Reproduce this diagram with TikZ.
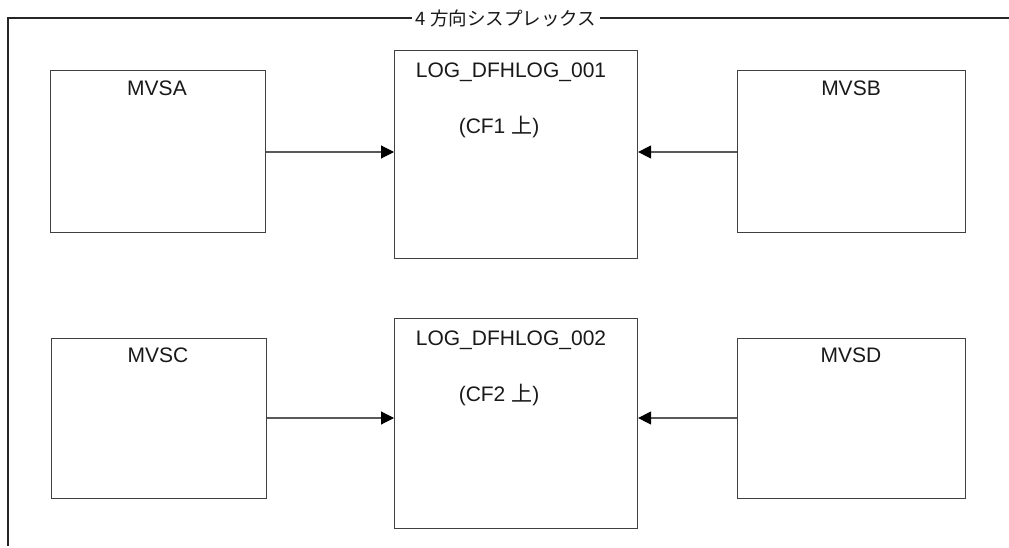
\documentclass[tikz,border=0pt]{standalone}
\usepackage{fontspec}
\setmainfont{Liberation Sans}
\newfontfamily\jpfont{Noto Sans CJK JP}
\usetikzlibrary{arrows.meta}
\begin{document}
\begin{tikzpicture}[x=1pt,y=-1pt,
  box/.style={draw=black!75,line width=1.1pt,anchor=north west,inner sep=0pt},
  lbl/.style={font=\fontsize{21}{25}\selectfont,text=black!90,inner sep=0pt},
  conn/.style={draw=black!65,line width=1.1pt,-{Triangle[length=13pt,width=13pt,color=black]}},
]
\useasboundingbox (0,0) rectangle (1009,548);
% outer frame
\coordinate (tr) at (1009,18);
\coordinate (tl) at (8,18);
\coordinate (bl) at (8,546);
\draw[black!85,line width=1.1pt] (tr) -- (tl) -- (bl);
\node[fill=white,inner xsep=4pt,inner ysep=2pt,font=\fontsize{18.5}{22}\selectfont\jpfont,text=black!90] (title) at (506,18) {4 方向シスプレックス};
% boxes
\node[box,minimum width=215pt,minimum height=162pt] (mvsa) at (50,70) {};
\node[box,minimum width=243pt,minimum height=208pt] (log1) at (394,50) {};
\node[box,minimum width=228pt,minimum height=162pt] (mvsb) at (737,70) {};
\node[box,minimum width=215pt,minimum height=160pt] (mvsc) at (51,338) {};
\node[box,minimum width=243pt,minimum height=210pt] (log2) at (394,318) {};
\node[box,minimum width=228pt,minimum height=160pt] (mvsd) at (737,338) {};
% texts
\node[lbl] (ta) at (157,88) {MVSA};
\node[lbl] (tb) at (851,88) {MVSB};
\node[lbl] (tc) at (158,355) {MVSC};
\node[lbl] (td) at (851,355) {MVSD};
\node[lbl] (tl1) at (511,72) {LOG\_DFHLOG\_001};
\node[lbl] (tcf1) at (499,127) {(CF1 {\jpfont 上})};
\node[lbl] (tl2) at (511,340) {LOG\_DFHLOG\_002};
\node[lbl] (tcf2) at (499,395) {(CF2 {\jpfont 上})};
% connectors
\draw[conn] (mvsa.east |- 0,152) -- (log1.west |- 0,152);
\draw[conn] (mvsb.west |- 0,152) -- (log1.east |- 0,152);
\draw[conn] (mvsc.east |- 0,418) -- (log2.west |- 0,418);
\draw[conn] (mvsd.west |- 0,418) -- (log2.east |- 0,418);
\end{tikzpicture}
\end{document}
